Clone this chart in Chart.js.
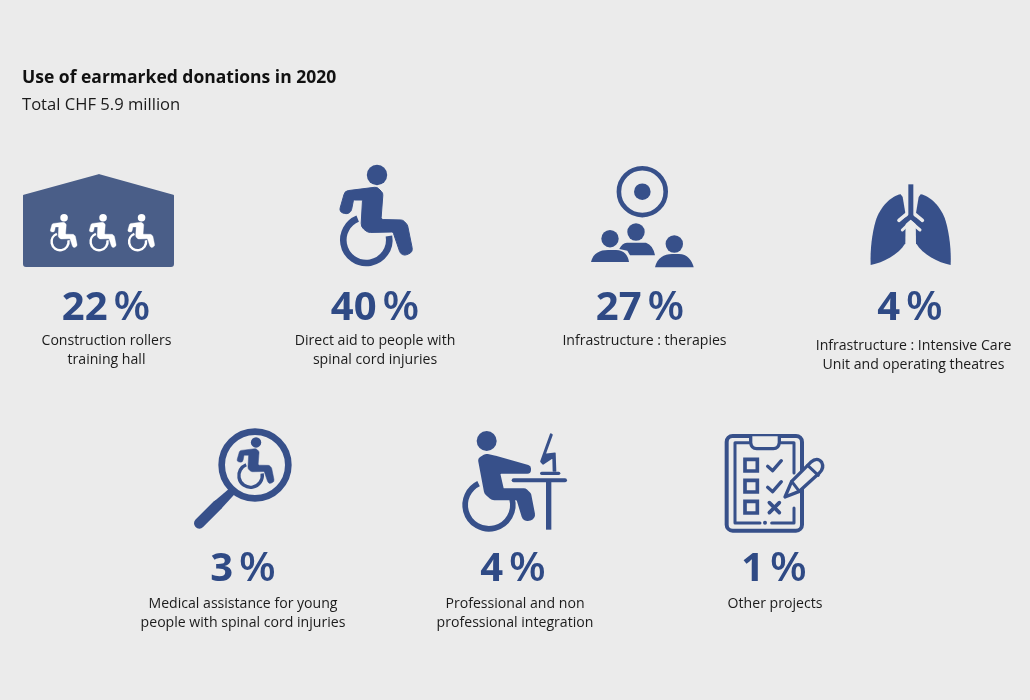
<!DOCTYPE html>
<html>
<head>
<meta charset="utf-8">
<style>html,body{margin:0;padding:0;background:#ebebeb}#wrap{width:1030px;height:700px;position:relative}canvas{display:block}</style>
<script src="https://cdn.jsdelivr.net/npm/chart.js@4"></script>
</head>
<body>
<div id="wrap"><canvas id="c" width="1030" height="700"></canvas></div>
<script>
// ---------- data ----------
const titleText = "Use of earmarked donations in 2020";
const subtitleText = "Total CHF 5.9 million";
const categories = ["Construction rollers training hall","Direct aid to people with spinal cord injuries","Infrastructure : therapies","Infrastructure : Intensive Care Unit and operating theatres","Medical assistance for young people with spinal cord injuries","Professional and non professional integration","Other projects"];
const shares = [22, 40, 27, 4, 3, 4, 1];
const labelLines = [["Construction rollers","training hall"],["Direct aid to people with","spinal cord injuries"],["Infrastructure : therapies"],["Infrastructure : Intensive Care","Unit and operating theatres"],["Medical assistance for young","people with spinal cord injuries"],["Professional and non","professional integration"],["Other projects"]];
const iconNames = ["hall","chair","therapy","lungs","search","desk","list"];

// ---------- layout (scale units equal page pixels) ----------
const iconX = [99, 376, 642, 910, 243, 515, 775];
const iconY = [220, 216, 217, 225, 479, 483, 483];
const numberX = [106, 375, 640, 910, 243, 513, 774];
const numberBase = [320, 320, 320, 320, 581, 581, 581];
const labelX = [106.5, 375, 644.5, 913.5, 243, 515, 775];
const labelBase = [345, 345, 345, 350, 608, 608, 608];
const labelLead = 19;

// ---------- styles ----------
const BG = "#ebebeb", BLUE = "#37508a", NUM = "#2f4a85", HALL = "#4a5e88", INK = "#1b1b1b";
const FAMILY = '"Open Sans", sans-serif';

// ---------- glyphs ----------
function rp(c, pts, r) {
  const n = pts.length;
  c.beginPath();
  c.moveTo((pts[n-1][0]+pts[0][0])/2, (pts[n-1][1]+pts[0][1])/2);
  for (let i = 0; i < n; i++) {
    const p = pts[i], q = pts[(i+1)%n];
    const rad = p[2] !== undefined ? p[2] : r;
    c.arcTo(p[0], p[1], (p[0]+q[0])/2, (p[1]+q[1])/2, rad);
  }
  c.closePath();
}
function disc(c, x, y, r) { c.beginPath(); c.arc(x, y, r, 0, Math.PI*2); c.fill(); }
function seg(c, pts, w, cap) {
  c.lineWidth = w; c.lineCap = cap || "round"; c.lineJoin = "round";
  c.beginPath(); pts.forEach((p,i)=> i ? c.lineTo(p[0],p[1]) : c.moveTo(p[0],p[1])); c.stroke();
}
function person(c, ox, oy, s, col) {
  c.save(); c.translate(ox, oy); c.scale(s, s);
  c.fillStyle = col; c.strokeStyle = col;
  disc(c, 38, 10, 10.2);
  c.lineWidth = 6.6; c.lineCap = "butt";
  c.beginPath(); c.arc(27.3, 75, 23, -10*Math.PI/180, 248*Math.PI/180); c.stroke();
  rp(c, [[0,47,4],[6,26,5],[38,22,5],[44,28,5],[42,54.5,2],[64,55,5],[68.5,60,4],[74,87,5.5],[62.5,92,5.5],[54,67,2],[29,67.5,7],[22,62,7],[23.5,35,1],[14.5,35,1],[11.5,50,5.5]], 4);
  c.fill(); c.lineWidth = 1; c.lineJoin = "round"; c.stroke();
  c.restore();
}
const glyphs = {
  hall(c) {
    c.fillStyle = HALL;
    rp(c, [[3,25,1],[79,4,2],[154,25,1],[154,97,3],[3,97,3]], 2); c.fill();
    [30, 69, 107.5].forEach(x => person(c, x, 44, 0.37, "#ffffff"));
  },
  chair(c) { person(c, 2, 2, 1, BLUE); },
  therapy(c) {
    c.fillStyle = BLUE; c.strokeStyle = BLUE;
    c.lineWidth = 4.6; c.beginPath(); c.arc(54.3, 28.7, 23.4, 0, Math.PI*2); c.stroke();
    disc(c, 54.3, 28.7, 8.3);
    disc(c, 22, 75.7, 8.7); disc(c, 48, 69, 8.7); disc(c, 86.3, 81, 8.7);
    c.beginPath(); c.moveTo(3,99); c.bezierCurveTo(5,90,12,87,20,87); c.lineTo(28,87); c.bezierCurveTo(36,87,40,92,41,99); c.closePath(); c.fill();
    c.beginPath(); c.moveTo(67,104.3); c.bezierCurveTo(69,95,76,91,84,91); c.lineTo(91,91); c.bezierCurveTo(99,91,104,97,105.7,104.3); c.closePath(); c.fill();
    c.beginPath(); c.moveTo(31.3,86); c.quadraticCurveTo(34,80,39,79.7); c.lineTo(58,79.7); c.quadraticCurveTo(65,82,67,92.3); c.lineTo(42,92.3); c.lineTo(39.3,87.7); c.closePath(); c.fill();
  },
  lungs(c) {
    c.scale(1/3, 1/3);
    c.fillStyle = BLUE; c.strokeStyle = BLUE;
    const lung = (m) => {
      const X = x => m ? 304 - x : x;
      c.beginPath(); c.moveTo(X(122),58);
      c.bezierCurveTo(X(95),62,X(60),95,X(47),138);
      c.bezierCurveTo(X(36),175,X(30),225,X(32),270);
      c.bezierCurveTo(X(70),263,X(115),240,X(136),205);
      c.lineTo(X(137),120); c.lineTo(X(128),66); c.closePath(); c.fill();
    };
    lung(false); lung(true);
    c.strokeStyle = BG;
    seg(c, [[117,136],[146,112]], 11); seg(c, [[187,136],[158,112]], 11);
    c.strokeStyle = BLUE;
    c.beginPath(); c.rect(145,28,15,100); c.fill();
    seg(c, [[120,152],[152,124],[184,152]], 15, "butt");
    c.strokeStyle = BG;
    seg(c, [[127,165],[152,141],[180,165]], 9);
  },
  search(c) {
    c.scale(1/3, 1/3); c.translate(-180, -15);
    c.strokeStyle = BLUE; c.fillStyle = BLUE;
    c.lineWidth = 20; c.beginPath(); c.arc(375,135,100,0,Math.PI*2); c.stroke();
    seg(c, [[208,310],[262,256]], 32);
    c.beginPath(); c.moveTo(251,245); c.lineTo(299,205); c.lineTo(315,221); c.lineTo(273,267); c.closePath(); c.fill();
    c.scale(3, 3);
    person(c, 320/3, 52/3, 0.51, BLUE);
  },
  desk(c) {
    c.scale(1/3, 1/3);
    c.strokeStyle = BLUE; c.fillStyle = BLUE;
    disc(c, 95, 48, 30);
    c.lineWidth = 17; c.lineCap = "butt";
    c.beginPath(); c.arc(102, 240, 71.5, -15*Math.PI/180, 244*Math.PI/180); c.stroke();
    rp(c, [[68,100,14],[92,86,18],[122,92,12],[228,122,11],[228,146,11],[136,146,2],[146,190,2],[212,190,14],[228,205,12],[243,282,18],[205,292,18],[185,226,3],[110,226,20],[88,206,18]], 8);
    c.fill();
    seg(c, [[176,166],[330,166]], 12);
    seg(c, [[281,166],[281,314]], 16, "butt");
    seg(c, [[260,145],[311,145]], 10);
    rp(c, [[286,24,3],[294,28,3],[273,86,1],[302,82,2],[304,140,1],[293,140,1],[292,101,1],[264,120,4],[255,110,4]], 2);
    c.fill();
  },
  list(c) {
    c.scale(1/3, 1/3);
    c.strokeStyle = BLUE; c.fillStyle = BLUE; c.lineJoin = "round"; c.lineCap = "round";
    c.lineWidth = 12;
    c.beginPath(); c.roundRect(20,24,226,284,18); c.stroke();
    seg(c, [[94,44],[45,44],[45,285],[120,285]], 9);
    seg(c, [[155,285],[222,285],[222,240]], 9);
    seg(c, [[172,44],[222,44],[222,135]], 9);
    disc(c, 135, 284, 6);
    c.fillStyle = BG;
    c.beginPath(); c.moveTo(92,25); c.lineTo(92,44); c.quadraticCurveTo(94,62,110,62); c.lineTo(160,62); c.quadraticCurveTo(176,62,178,44); c.lineTo(178,25); c.fill();
    c.lineWidth = 10; c.lineJoin = "round"; c.lineCap = "round"; c.stroke();
    c.fillStyle = BLUE;
    c.lineWidth = 11; c.lineJoin = "miter";
    [94,157,220].forEach(y => { c.beginPath(); c.rect(75,y,37,35); c.stroke(); });
    c.lineJoin = "round";
    seg(c, [[143,115],[158,128],[184,98]], 10);
    seg(c, [[143,178],[158,191],[184,161]], 10);
    seg(c, [[148,224],[178,254]], 11); seg(c, [[178,224],[148,254]], 11);
    c.lineWidth = 10;
    c.fillStyle = BG;
    c.beginPath(); c.moveTo(195,207); c.lineTo(215,160); c.lineTo(272,103); c.quadraticCurveTo(292,85,305,103); c.quadraticCurveTo(314,120,298,135); c.lineTo(238,190); c.closePath(); c.fill(); c.stroke();
    seg(c, [[215,160],[238,190]], 9);
    seg(c, [[263,112],[295,142]], 9);
  }
};
const iconSizes = { hall:[158,100], chair:[78,106], therapy:[108,108], lungs:[100,100], search:[106,108], desk:[120,116], list:[110,110] };
function makeIcon(name) {
  const cv = document.createElement("canvas");
  cv.width = iconSizes[name][0]; cv.height = iconSizes[name][1];
  glyphs[name](cv.getContext("2d"));
  return cv;
}

// ---------- text drawn at scale positions ----------
const captions = {
  id: "captions",
  afterDatasetsDraw(chart) {
    const { ctx, scales: { x, y } } = chart;
    ctx.save();
    ctx.textBaseline = "alphabetic";
    shares.forEach((v, i) => {
      const num = String(v);
      const numFont = `700 40px ${FAMILY}`, pctFont = `600 39px ${FAMILY}`, stretch = 1.09;
      ctx.font = numFont; const w1 = ctx.measureText(num).width;
      ctx.font = pctFont; const w2 = ctx.measureText("%").width * stretch;
      const gap = 6, total = w1 + gap + w2;
      const left = x.getPixelForValue(numberX[i]) - total/2, by = y.getPixelForValue(numberBase[i]);
      ctx.textAlign = "left"; ctx.fillStyle = NUM;
      ctx.font = numFont; ctx.fillText(num, left, by);
      ctx.save();
      ctx.translate(left + w1 + gap, by); ctx.scale(stretch, 1);
      ctx.font = pctFont; ctx.fillText("%", 0, 0);
      ctx.restore();
      ctx.font = `400 14.1px ${FAMILY}`; ctx.textAlign = "center"; ctx.fillStyle = INK;
      labelLines[i].forEach((line, k) => ctx.fillText(line, x.getPixelForValue(labelX[i]), y.getPixelForValue(labelBase[i] + k*labelLead)));
    });
    ctx.restore();
  }
};

const bgPlugin = { id:"bg", beforeDraw(chart){ const c=chart.ctx; c.save(); c.fillStyle=BG; c.fillRect(0,0,chart.width,chart.height); c.restore(); } };

new Chart(document.getElementById("c"), {
  type: "scatter",
  data: {
    labels: categories,
    datasets: [{
      label: "Share of earmarked donations (%)",
      data: shares.map((v, i) => ({ x: iconX[i], y: iconY[i], share: v, name: categories[i] })),
      pointStyle: iconNames.map(makeIcon),
      pointRadius: 1, pointHoverRadius: 1, clip: false, showLine: false
    }]
  },
  plugins: [bgPlugin, captions],
  options: {
    responsive: false, animation: false, devicePixelRatio: 1,
    layout: { autoPadding: false, padding: { left: 22, right: 0, top: 0, bottom: 0 } },
    scales: {
      x: { type: "linear", display: false, min: 22, max: 1030 },
      y: { type: "linear", display: false, min: 120, max: 700, reverse: true }
    },
    plugins: {
      legend: { display: false }, tooltip: { enabled: false },
      title: { display: true, text: titleText, align: "start", color: "#111111", font: { family: FAMILY, size: 17.5, weight: "700", lineHeight: "20px" }, padding: { top: 68, bottom: 6 } },
      subtitle: { display: true, text: subtitleText, align: "start", color: INK, font: { family: FAMILY, size: 16.6, weight: "400", lineHeight: "22px" }, padding: { top: 0, bottom: 4 } }
    }
  }
});
</script>
</body>
</html>
